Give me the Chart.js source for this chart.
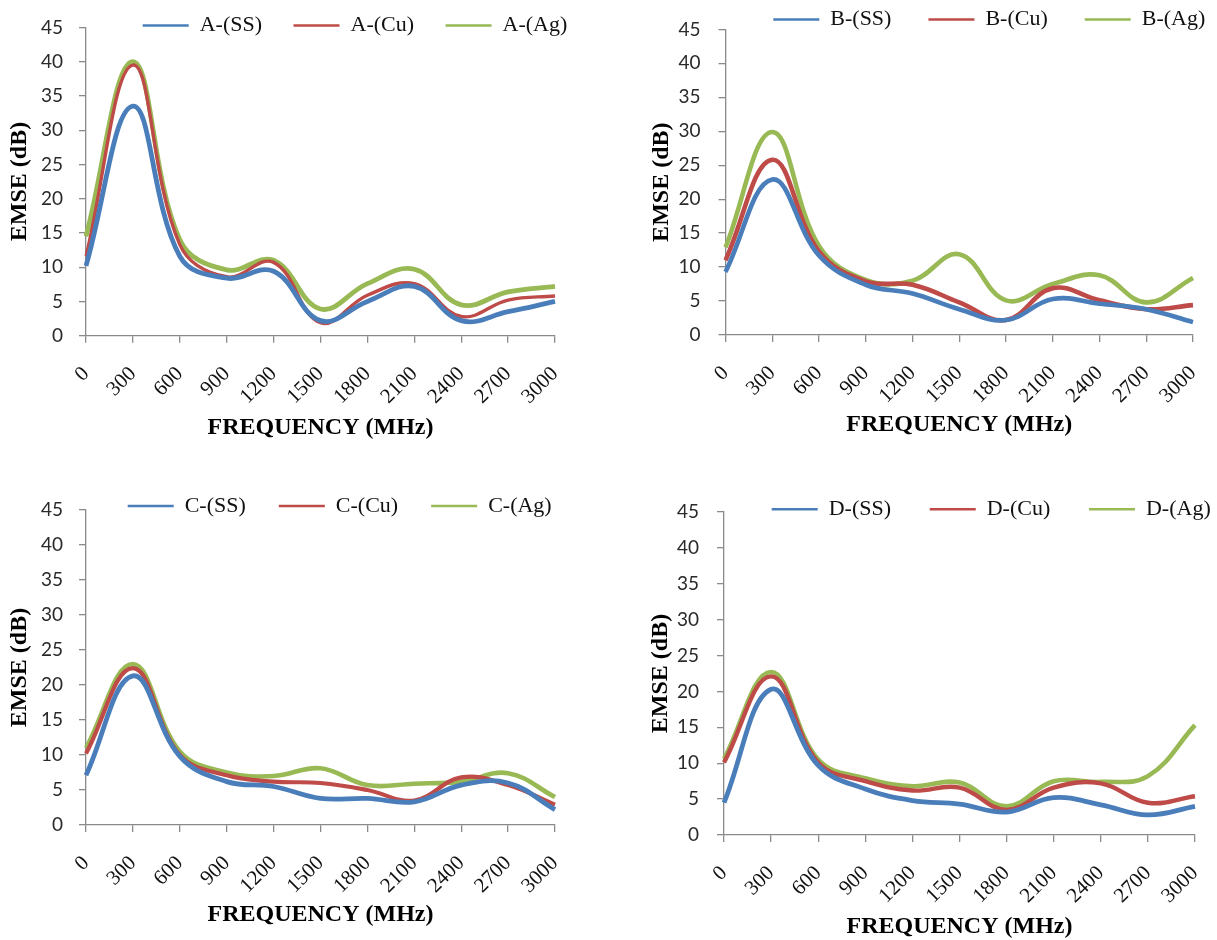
<!DOCTYPE html>
<html>
<head>
<meta charset="utf-8">
<title>EMSE vs frequency</title>
<script src="https://cdn.jsdelivr.net/npm/chart.js@4.4.1/dist/chart.umd.min.js"></script>
<style>
  html, body { margin: 0; padding: 0; background: #fff; overflow: hidden; }
  #wrap { position: relative; width: 1217px; height: 940px; }
  canvas { position: absolute; }
</style>
</head>
<body>
<div id="wrap">
  <canvas id="chartA"></canvas>
  <canvas id="chartB"></canvas>
  <canvas id="chartC"></canvas>
  <canvas id="chartD"></canvas>
</div>
<script>
// Frequency categories (MHz)
const freqLabels = ['0', '300', '600', '900', '1200', '1500', '1800', '2100', '2400', '2700', '3000'];

// Sample A
const aSS = [10.2, 33.5, 11.6, 8.4, 9.4, 2.2, 5.0, 7.2, 2.2, 3.5, 5.0];
const aCu = [11.6, 39.5, 13.3, 8.6, 10.7, 1.9, 5.9, 7.6, 2.8, 5.2, 5.8];
const aAg = [14.5, 40.0, 14.0, 9.6, 11.0, 3.9, 7.6, 9.7, 4.5, 6.4, 7.2];

// Sample B
const bSS = [9.3, 22.9, 11.7, 7.4, 6.1, 3.8, 2.2, 5.3, 4.6, 3.8, 1.9];
const bCu = [11.0, 25.8, 12.3, 7.9, 7.4, 4.8, 2.2, 6.9, 5.1, 3.8, 4.4];
const bAg = [12.9, 29.9, 13.1, 8.1, 8.0, 11.9, 5.1, 7.5, 8.8, 4.8, 8.4];

// Sample C
const cSS = [7.1, 21.3, 9.8, 6.2, 5.5, 3.8, 3.8, 3.3, 5.7, 6.0, 2.2];
const cCu = [10.2, 22.4, 10.0, 7.1, 6.2, 6.0, 5.0, 3.5, 6.8, 5.7, 2.9];
const cAg = [11.0, 23.0, 10.5, 7.5, 7.0, 8.1, 5.7, 5.9, 6.2, 7.4, 4.0];

// Sample D
const dSS = [4.5, 20.3, 9.7, 6.4, 4.8, 4.3, 3.2, 5.2, 4.2, 2.8, 4.0];
const dCu = [10.1, 22.1, 10.1, 7.5, 6.2, 6.6, 3.5, 6.6, 7.2, 4.5, 5.4];
const dAg = [10.6, 22.7, 10.5, 7.9, 6.8, 7.3, 4.0, 7.5, 7.4, 8.2, 15.3];

// Axis range
const yMin = 0, yMax = 45, yStep = 5;

const SERIF = "'Liberation Serif', 'Times New Roman', serif";
const SANS = "Lato, 'Liberation Sans', sans-serif";
const COLORS = { SS: '#4A7EBB', Cu: '#BE4B48', Ag: '#98B954' };
const AXIS_GREY = '#8a8a8a';

// Moves the legend row so it sits over the top of the plot area
const legendPlacer = {
  id: 'legendPlacer',
  afterLayout(chart, args, opts) {
    const lg = chart.legend;
    if (!lg || opts.left == null) return;
    const pad = opts.pad;
    lg.left = opts.left - pad;
    lg.right = lg.left + 1000;
    lg.top = opts.rowY - pad - opts.fontSize / 2;
    lg.bottom = lg.top + 2 * pad + opts.fontSize + 10;
  }
};

function series(letter, ss, cu, ag, widths) {
  const mk = (tag, data, w) => ({
    label: letter + '-(' + tag + ')',
    data: data,
    borderColor: COLORS[tag],
    backgroundColor: COLORS[tag],
    borderWidth: w,
    tension: 0.4,
    fill: false,
    pointStyle: 'line',
    pointRadius: 0,
    pointHoverRadius: 0,
    pointHitRadius: 0,
    pointBorderWidth: 2.5,
    pointBorderColor: COLORS[tag],
    pointBackgroundColor: COLORS[tag]
  });
  return [mk('SS', ss, widths[0]), mk('Cu', cu, widths[1]), mk('Ag', ag, widths[2])];
}

function makePanel(id, datasets, p) {
  const canvas = document.getElementById(id);
  const h = p.xTitleY + 14.4 - p.y0;
  canvas.width = p.w;
  canvas.height = Math.round(h);
  canvas.style.left = p.x0 + 'px';
  canvas.style.top = p.y0 + 'px';
  const hx = p.xTitleY + 14.4 - p.B;
  const yw = p.L - p.x0;

  return new Chart(canvas, {
    type: 'line',
    data: { labels: freqLabels, datasets: datasets },
    plugins: [legendPlacer],
    options: {
      responsive: false,
      animation: false,
      devicePixelRatio: 1,
      events: [],
      layout: {
        padding: { left: 0, top: p.T - p.y0 - 1, right: p.x0 + p.w - p.R, bottom: canvas.height - (p.B - p.y0) - hx }
      },
      plugins: {
        tooltip: { enabled: false },
        legend: {
          display: true,
          position: 'top',
          align: 'start',
          maxHeight: 1,
          labels: {
            usePointStyle: true,
            pointStyleWidth: 46,
            padding: p.legPad,
            color: '#111',
            font: { family: SERIF, size: 22 }
          }
        },
        legendPlacer: { left: p.legX - p.x0, rowY: p.legY - p.y0, pad: p.legPad, fontSize: 22 }
      },
      scales: {
        x: {
          type: 'category',
          offset: false,
          grid: { drawOnChartArea: false, drawTicks: true, tickLength: 7, color: AXIS_GREY, lineWidth: 1.3 },
          border: { display: true, color: AXIS_GREY, width: 1.3 },
          ticks: {
            autoSkip: false,
            minRotation: 45,
            maxRotation: 45,
            padding: 19,
            color: '#111',
            font: { family: SERIF, size: 21 }
          },
          title: {
            display: true,
            text: 'FREQUENCY (MHz)',
            color: '#000',
            font: { family: SERIF, size: 24, weight: 'bold' },
            padding: { top: 0, bottom: 0 }
          },
          afterFit(s) { s.height = hx; s.paddingLeft = 0; s.paddingRight = 0; }
        },
        y: {
          min: yMin,
          max: yMax,
          grid: { drawOnChartArea: false, drawTicks: true, tickLength: 7, color: AXIS_GREY, lineWidth: 1.3 },
          border: { display: true, color: AXIS_GREY, width: 1.3 },
          ticks: {
            stepSize: yStep,
            padding: p.yTickPad,
            color: '#2a2a2a',
            font: { family: SANS, size: 19 }
          },
          title: {
            display: true,
            text: 'EMSE (dB)',
            color: '#000',
            font: { family: SERIF, size: 24, weight: 'bold' },
            padding: { top: p.yTitleX - p.x0 - 14.4, bottom: 0 }
          },
          afterFit(s) { s.width = yw; }
        }
      }
    }
  });
}

makePanel('chartA', series('A', aSS, aCu, aAg, [4.8, 3.4, 4.8]), {
  x0: 0, y0: 0, w: 600, L: 86, R: 555, T: 20.7, B: 335.7,
  xTitleY: 428, yTitleX: 20, legX: 142.7, legY: 25.5, legPad: 31.5, yTickPad: 16
});
makePanel('chartB', series('B', bSS, bCu, bAg, [4.6, 4.6, 4.6]), {
  x0: 620, y0: 0, w: 597, L: 725.5, R: 1193, T: 20.7, B: 335,
  xTitleY: 425, yTitleX: 662, legX: 773.3, legY: 19.5, legPad: 37, yTickPad: 18
});
makePanel('chartC', series('C', cSS, cCu, cAg, [4.8, 4.2, 4.6]), {
  x0: 0, y0: 470, w: 600, L: 86, R: 555, T: 510, B: 825,
  xTitleY: 915, yTitleX: 20, legX: 127.7, legY: 506, legPad: 33, yTickPad: 16
});
makePanel('chartD', series('D', dSS, dCu, dAg, [4.8, 4.4, 4.6]), {
  x0: 620, y0: 470, w: 597, L: 724, R: 1195, T: 512, B: 835,
  xTitleY: 927, yTitleX: 661, legX: 771.7, legY: 509.3, legPad: 38.7, yTickPad: 18
});
</script>
</body>
</html>
